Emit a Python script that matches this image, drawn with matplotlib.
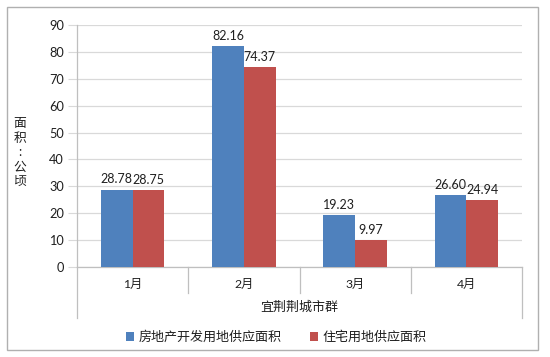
import numpy as np
import matplotlib
matplotlib.use('Agg')
import matplotlib.pyplot as plt
from matplotlib.patches import Rectangle
import matplotlib.transforms as mtransforms

plt.rcParams['font.family'] = ['Lato', 'Noto Sans CJK SC', 'DejaVu Sans']

months = ['1月', '2月', '3月', '4月']
dev_land = [28.78, 82.16, 19.23, 26.60]
res_land = [28.75, 74.37, 9.97, 24.94]
series_names = ['房地产开发用地供应面积', '住宅用地供应面积']
yticks = [0, 10, 20, 30, 40, 50, 60, 70, 80, 90]
xlabel = '宜荆荆城市群'
ylabel = '面\n积\n:\n公\n顷'

blue = '#4F81BD'
red = '#C0504D'
grid_c = '#D9D9D9'
axis_c = '#BFBFBF'
txt_c = '#1F1F1F'

W, H = 550, 357
fig = plt.figure(figsize=(5.5, 3.57), dpi=100)

# outer chart border
fig.patches.append(Rectangle((7 / W, 7 / H), 531 / W, 343 / H, transform=fig.transFigure,
                             fill=False, edgecolor='#B0B0B0', linewidth=1.0))

ax = fig.add_axes([77 / W, 90 / H, 445 / W, 242 / H])

x = np.arange(len(months))
bw = 0.285
b1 = ax.bar(x - bw / 2, dev_land, bw, color=blue, label=series_names[0], zorder=3)
b2 = ax.bar(x + bw / 2, res_land, bw, color=red, label=series_names[1], zorder=3)

for bars, vals in [(b1, dev_land), (b2, res_land)]:
    for b, v in zip(bars, vals):
        ax.annotate(f'{v:.2f}', (b.get_x() + b.get_width() / 2, v), xytext=(0, 3),
                    textcoords='offset points', ha='center', va='bottom',
                    fontsize=9, color=txt_c)

ax.set_xlim(-0.5, len(months) - 0.5)
ax.set_ylim(0, 90)
ax.set_yticks(yticks)
ax.yaxis.grid(True, color=grid_c, linewidth=0.9, zorder=0)
ax.set_axisbelow(True)
ax.tick_params(axis='y', length=6.5, color=grid_c, labelsize=9.2, labelcolor=txt_c, pad=3)

ax.set_xticks(x)
ax.set_xticklabels(months, fontsize=8.8, color=txt_c)
ax.tick_params(axis='x', length=0, pad=8.5)

for s in ['top', 'right']:
    ax.spines[s].set_visible(False)
ax.spines['left'].set_color(axis_c)
ax.spines['bottom'].set_color(axis_c)
ax.spines['left'].set_linewidth(0.9)
ax.spines['bottom'].set_linewidth(0.9)

# category divider lines below the axis
trans = mtransforms.blended_transform_factory(ax.transData, ax.transAxes)
for xs in np.arange(0.5, len(months) - 1, 1.0):
    ax.plot([xs, xs], [0, -26 / 242], transform=trans, color=axis_c, lw=0.9, clip_on=False)
for xs in [-0.5, len(months) - 0.5]:
    ax.plot([xs, xs], [0, -51 / 242], transform=trans, color=axis_c, lw=0.9, clip_on=False)

ax.set_xlabel(xlabel, fontsize=9.4, color=txt_c, labelpad=8)

fig.text(20 / W, 1 - 152 / H, ylabel, ha='center', va='center', fontsize=9.2,
         color=txt_c, linespacing=1.25)

fig.legend(handles=[b1, b2], loc='center', bbox_to_anchor=(276 / W, 1 - 337 / H),
           ncol=2, frameon=False, fontsize=9.4, handlelength=0.65, handleheight=0.65,
           handletextpad=0.3, columnspacing=2.2, labelcolor=txt_c)

fig.savefig('out.png', dpi=100, facecolor='white')
